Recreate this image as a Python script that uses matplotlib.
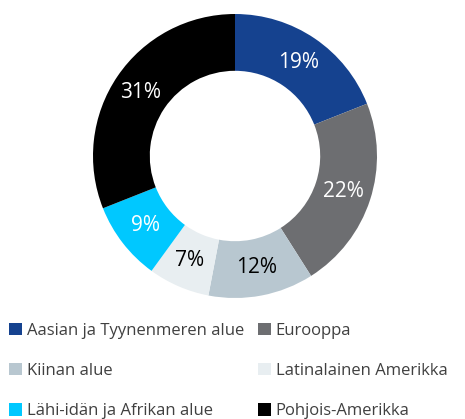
import matplotlib
matplotlib.use("Agg")
import matplotlib.pyplot as plt
from matplotlib.patches import Patch
import numpy as np

regions = ["Aasian ja Tyynenmeren alue", "Eurooppa", "Kiinan alue",
           "Latinalainen Amerikka", "Lähi-idän ja Afrikan alue", "Pohjois-Amerikka"]
shares = [19, 22, 12, 7, 9, 31]
colors = ["#15428f", "#6d6e71", "#b8c7d0", "#e8eef1", "#00c8ff", "#000000"]
label_colors = ["white", "white", "black", "black", "white", "white"]

plt.rcParams['font.family'] = ['Open Sans', 'DejaVu Sans']

fig = plt.figure(figsize=(4.65, 4.19), dpi=100)
ax = fig.add_axes([93 / 465, 1 - 298 / 419, 284 / 465, 284 / 419])

wedges, texts = ax.pie(shares, colors=colors, startangle=90, counterclock=False,
                       radius=1, wedgeprops=dict(width=0.4, linewidth=0))
ax.set_xlim(-1, 1)
ax.set_ylim(-1, 1)
ax.set_aspect("equal")
ax.axis("off")

for w, val, tc in zip(wedges, shares, label_colors):
    ang = np.deg2rad((w.theta1 + w.theta2) / 2)
    ax.text(0.8 * np.cos(ang), 0.8 * np.sin(ang), f"{val}%", ha="center", va="center",
            fontsize=15, color=tc)

# legend fills column by column, so reorder to read row by row
order = [0, 2, 4, 1, 3, 5]
handles = [Patch(facecolor=colors[i], edgecolor="none") for i in order]
labels = [regions[i] for i in order]
fig.legend(handles, labels, loc="upper left", bbox_to_anchor=(0.006, 0.245), ncol=2,
           frameon=False, fontsize=12, handlelength=0.75, handleheight=0.75,
           handletextpad=0.3, columnspacing=0.85, labelspacing=1.45,
           borderaxespad=0, labelcolor="#404040")

fig.savefig("out.png", dpi=100)
